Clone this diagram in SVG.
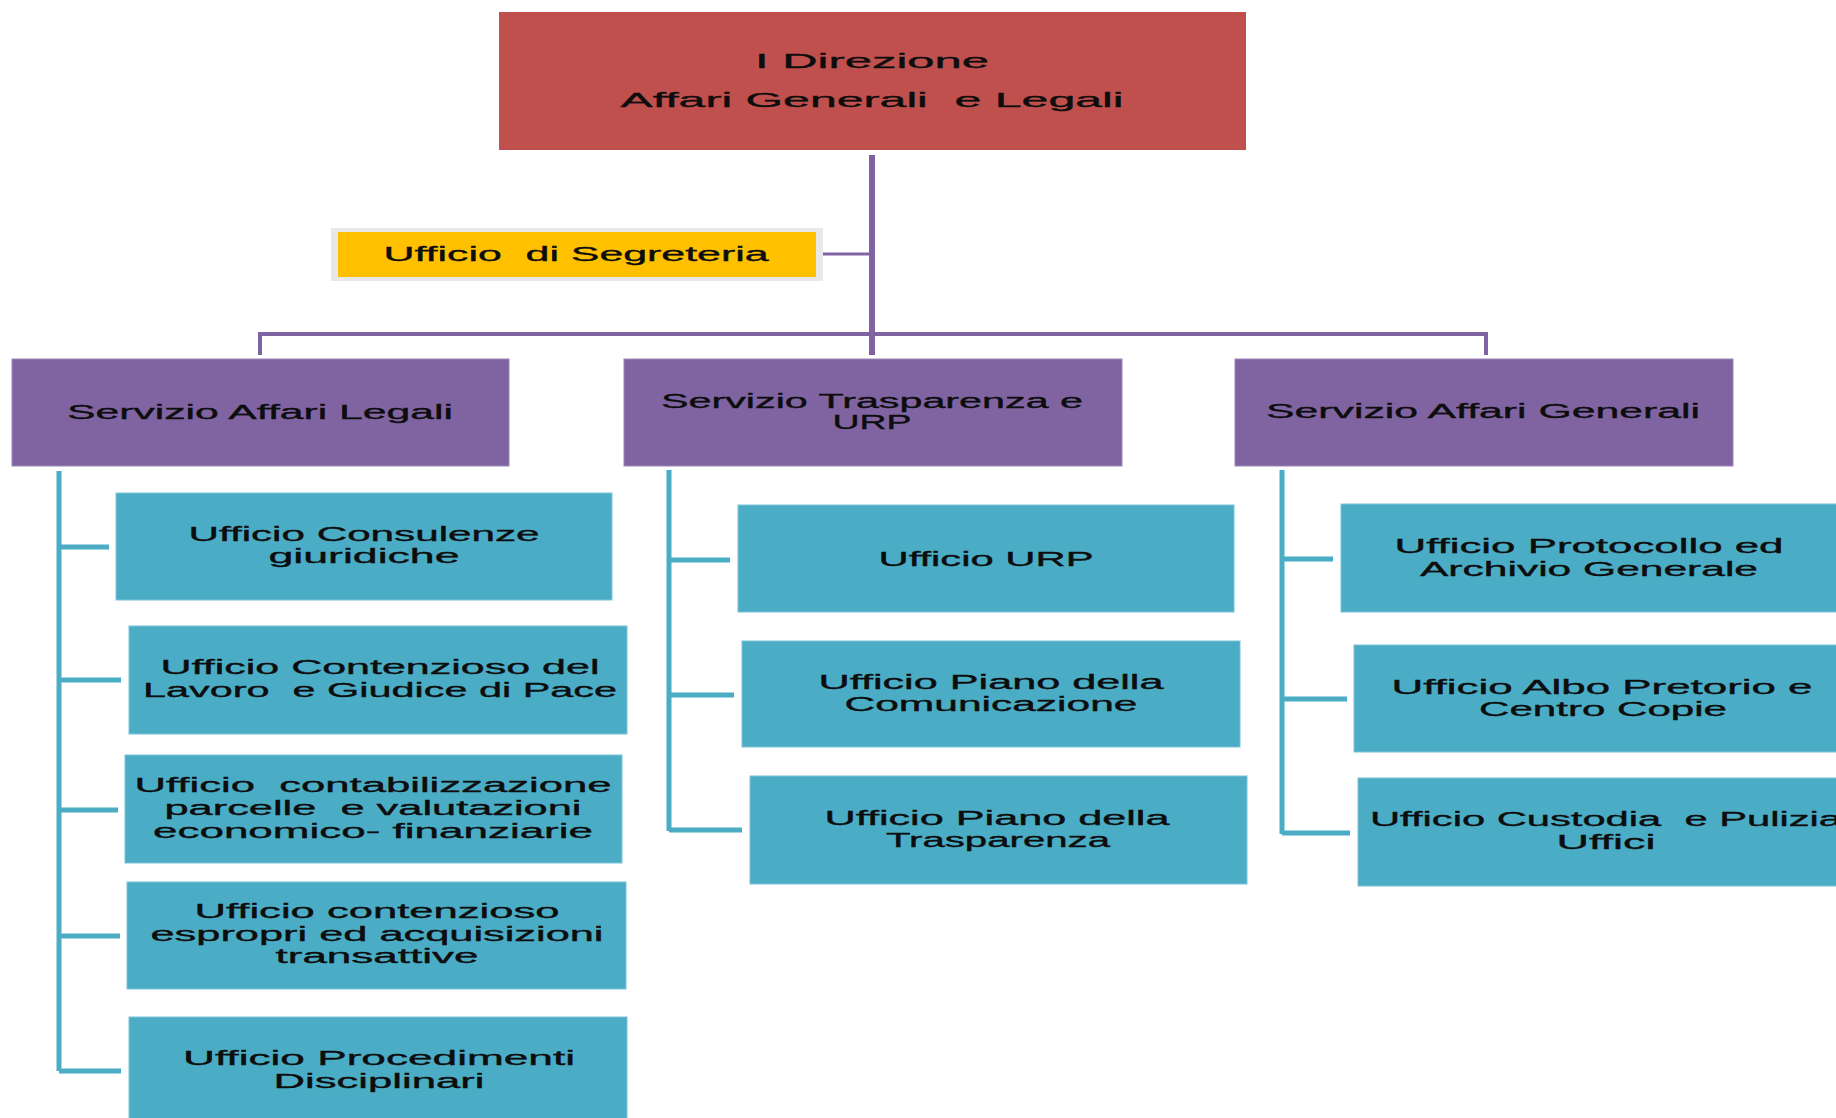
<svg xmlns="http://www.w3.org/2000/svg" width="1836" height="1118" viewBox="0 0 1836 1118">
<style>
text{font-family:"Liberation Sans",Arial,sans-serif;fill:#0d0d0d;stroke:#0d0d0d;stroke-width:0.35;text-anchor:middle;font-size:20px;white-space:pre}
.top{fill:#C0504D}
.svc{fill:#8064A2;stroke:#9c87b8;stroke-width:1}
.off{fill:#4BACC6;stroke:#7cc3d6;stroke-width:1}
.pl{stroke:#8064A2;fill:none}
.bl{stroke:#4BACC6;fill:none;stroke-width:5}
.t21{font-size:21px}
</style>
<rect width="1836" height="1118" fill="#ffffff"/>
<g id="connectors">
<line class="pl" x1="872" y1="155" x2="872" y2="355" stroke-width="6"/>
<line class="pl" x1="823" y1="254" x2="872" y2="254" stroke-width="3"/>
<polyline class="pl" points="260,355 260,334 1486,334 1486,355" stroke-width="4"/>
<line class="bl" x1="59" y1="471" x2="59" y2="1071"/>
<line class="bl" x1="59" y1="547" x2="109" y2="547" stroke-width="4"/>
<line class="bl" x1="59" y1="680" x2="121" y2="680" stroke-width="4"/>
<line class="bl" x1="59" y1="810" x2="118" y2="810" stroke-width="4"/>
<line class="bl" x1="59" y1="936" x2="120" y2="936" stroke-width="4"/>
<line class="bl" x1="59" y1="1071" x2="121" y2="1071" stroke-width="4"/>
<line class="bl" x1="669" y1="470" x2="669" y2="831"/>
<line class="bl" x1="669" y1="560" x2="730" y2="560" stroke-width="4"/>
<line class="bl" x1="669" y1="695" x2="734" y2="695" stroke-width="4"/>
<line class="bl" x1="669" y1="830" x2="742" y2="830" stroke-width="4"/>
<line class="bl" x1="1282" y1="470" x2="1282" y2="834"/>
<line class="bl" x1="1282" y1="559" x2="1333" y2="559" stroke-width="4"/>
<line class="bl" x1="1282" y1="699" x2="1347" y2="699" stroke-width="4"/>
<line class="bl" x1="1282" y1="833" x2="1350" y2="833" stroke-width="4"/>
</g>
<g id="direzione">
<rect class="top" x="499" y="12" width="747" height="138"/>
<text class="t21" x="872" y="68" textLength="234" lengthAdjust="spacingAndGlyphs">I Direzione</text>
<text class="t21" x="872" y="107" textLength="503" lengthAdjust="spacingAndGlyphs">Affari Generali  e Legali</text>
</g>
<g id="segreteria">
<rect x="331" y="228" width="492" height="53" fill="#e8e8e8"/>
<rect x="338" y="232" width="478" height="45" fill="#FFC000"/>
<text x="576" y="261" textLength="385" lengthAdjust="spacingAndGlyphs">Ufficio  di Segreteria</text>
</g>
<g id="servizio-legali">
<rect class="svc" x="12" y="359" width="497" height="107"/>
<text x="260" y="419" textLength="386" lengthAdjust="spacingAndGlyphs">Servizio Affari Legali</text>
</g>
<g id="servizio-trasparenza">
<rect class="svc" x="624" y="359" width="498" height="107"/>
<text x="872" y="408" textLength="422" lengthAdjust="spacingAndGlyphs">Servizio Trasparenza e</text>
<text x="872" y="429" textLength="79" lengthAdjust="spacingAndGlyphs">URP</text>
</g>
<g id="servizio-generali">
<rect class="svc" x="1235" y="359" width="498" height="107"/>
<text x="1483" y="418" textLength="434" lengthAdjust="spacingAndGlyphs">Servizio Affari Generali</text>
</g>
<g id="consulenze">
<rect class="off" x="116" y="493" width="496" height="107"/>
<text x="364" y="541" textLength="351" lengthAdjust="spacingAndGlyphs">Ufficio Consulenze</text>
<text x="364" y="563" textLength="191" lengthAdjust="spacingAndGlyphs">giuridiche</text>
</g>
<g id="contenzioso-lavoro">
<rect class="off" x="129" y="626" width="498" height="108"/>
<text x="380" y="674" textLength="439" lengthAdjust="spacingAndGlyphs">Ufficio Contenzioso del</text>
<text x="380" y="697" textLength="474" lengthAdjust="spacingAndGlyphs">Lavoro  e Giudice di Pace</text>
</g>
<g id="contabilizzazione">
<rect class="off" x="125" y="755" width="497" height="108"/>
<text x="373" y="792" textLength="477" lengthAdjust="spacingAndGlyphs">Ufficio  contabilizzazione</text>
<text x="373" y="815" textLength="417" lengthAdjust="spacingAndGlyphs">parcelle  e valutazioni</text>
<text x="373" y="838" textLength="440" lengthAdjust="spacingAndGlyphs">economico- finanziarie</text>
</g>
<g id="espropri">
<rect class="off" x="127" y="882" width="499" height="107"/>
<text x="377" y="918" textLength="365" lengthAdjust="spacingAndGlyphs">Ufficio contenzioso</text>
<text x="377" y="941" textLength="453" lengthAdjust="spacingAndGlyphs">espropri ed acquisizioni</text>
<text x="377" y="963" textLength="203" lengthAdjust="spacingAndGlyphs">transattive</text>
</g>
<g id="procedimenti">
<rect class="off" x="129" y="1017" width="498" height="120"/>
<text x="379" y="1065" textLength="392" lengthAdjust="spacingAndGlyphs">Ufficio Procedimenti</text>
<text x="379" y="1088" textLength="211" lengthAdjust="spacingAndGlyphs">Disciplinari</text>
</g>
<g id="urp">
<rect class="off" x="738" y="505" width="496" height="107"/>
<text x="986" y="566" textLength="215" lengthAdjust="spacingAndGlyphs">Ufficio URP</text>
</g>
<g id="comunicazione">
<rect class="off" x="742" y="641" width="498" height="106"/>
<text x="991" y="689" textLength="345" lengthAdjust="spacingAndGlyphs">Ufficio Piano della</text>
<text x="991" y="711" textLength="293" lengthAdjust="spacingAndGlyphs">Comunicazione</text>
</g>
<g id="trasparenza">
<rect class="off" x="750" y="776" width="497" height="108"/>
<text x="997" y="825" textLength="345" lengthAdjust="spacingAndGlyphs">Ufficio Piano della</text>
<text x="998" y="847" textLength="224" lengthAdjust="spacingAndGlyphs">Trasparenza</text>
</g>
<g id="protocollo">
<rect class="off" x="1341" y="504" width="496" height="108"/>
<text x="1589" y="553" textLength="389" lengthAdjust="spacingAndGlyphs">Ufficio Protocollo ed</text>
<text x="1589" y="576" textLength="338" lengthAdjust="spacingAndGlyphs">Archivio Generale</text>
</g>
<g id="albo">
<rect class="off" x="1354" y="645" width="496" height="107"/>
<text x="1602" y="694" textLength="421" lengthAdjust="spacingAndGlyphs">Ufficio Albo Pretorio e</text>
<text x="1603" y="716" textLength="248" lengthAdjust="spacingAndGlyphs">Centro Copie</text>
</g>
<g id="custodia">
<rect class="off" x="1358" y="778" width="496" height="108"/>
<text x="1606" y="826" textLength="472" lengthAdjust="spacingAndGlyphs">Ufficio Custodia  e Pulizia</text>
<text x="1606" y="849" textLength="99" lengthAdjust="spacingAndGlyphs">Uffici</text>
</g>
</svg>
